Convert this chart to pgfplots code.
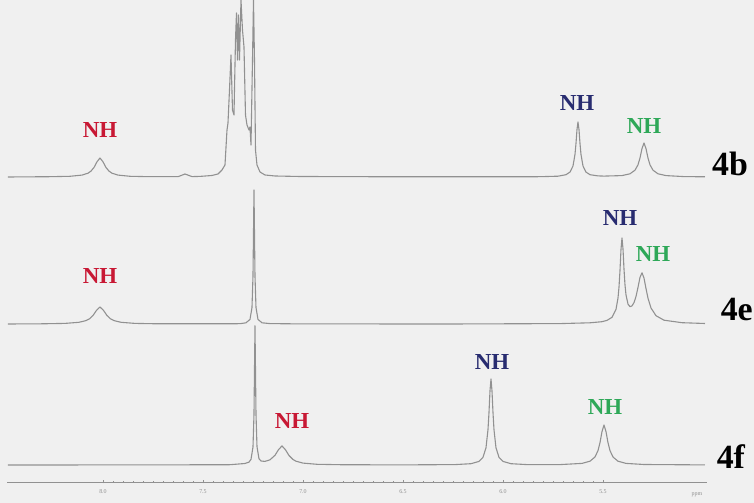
\documentclass[border=0pt]{standalone}
\usepackage{fontspec}
\setmainfont{Liberation Serif}
\usepackage{pgfplots}
\pgfplotsset{compat=1.18}
\definecolor{bgc}{RGB}{240,240,240}
\definecolor{spec}{RGB}{145,145,145}
\definecolor{nhred}{RGB}{200,24,52}
\definecolor{nhblue}{RGB}{40,44,112}
\definecolor{nhgreen}{RGB}{46,168,88}
\begin{document}
\begin{tikzpicture}
\begin{axis}[
  scale only axis, width=700bp, height=503bp,
  x dir=reverse, xmin=4.98, xmax=8.48, ymin=-21, ymax=482,
  clip=false, axis on top,
  axis x line*=middle, axis y line=none,
  x axis line style={-, draw=spec, line width=0.6bp},
  xtick={5.5,6.0,6.5,7.0,7.5,8.0},
  minor tick num=9,
  tick align=center,
  major tick length=3bp, minor tick length=1.6bp,
  every tick/.style={draw=spec, line width=0.4bp},
  xticklabel style={font=\fontsize{6}{6}\selectfont, text=spec, yshift=-3bp},
  /pgf/number format/.cd, fixed, fixed zerofill, precision=1, assume math mode=true,
]
\fill[bgc] (8.515,-21) rectangle (4.745,482);
\coordinate (bl) at (8.515,-21);
\coordinate (tr) at (4.745,482);

% 4b
\addplot[spec, line width=1.1bp, line join=round] coordinates {
(8.475,305) (8.265,305.3) (8.165,305.7) (8.105,306.9) (8.075,308.8) (8.060,310.9) (8.045,314.5) (8.030,320.2) (8.015,324)
(8.000,320.2) (7.985,314.5) (7.970,310.9) (7.955,308.8) (7.925,306.9) (7.865,305.7) (7.765,305.3) (7.625,305.3) (7.590,308) (7.555,305.4)
(7.515,305.6) (7.455,306.5) (7.425,308) (7.405,312) (7.390,317) (7.380,352) (7.375,359) (7.3675,392) (7.360,427) (7.3525,372)
(7.345,367) (7.3375,442) (7.3325,469) (7.3275,422) (7.3225,467) (7.3175,422) (7.310,482) (7.3025,452) (7.295,435) (7.2875,367)
(7.280,357) (7.270,352) (7.265,355) (7.260,337) (7.2525,422) (7.2475,482) (7.2425,422) (7.2375,332) (7.230,317) (7.215,310)
(7.190,307) (7.140,306) (7.015,305.5) (6.515,305.2) (6.015,305.2) (5.815,305.3) (5.725,305.8) (5.685,307.3) (5.665,309.9)
(5.650,316) (5.640,327.6) (5.635,338.6) (5.630,352.4) (5.625,360) (5.620,352.4) (5.615,338.6) (5.610,327.6) (5.600,316)
(5.585,309.9) (5.565,307.3) (5.525,306.1) (5.495,305.9) (5.405,306.4) (5.365,308.2) (5.340,311.8) (5.325,317.2) (5.315,324)
(5.305,333.4) (5.295,339) (5.285,333.4) (5.275,324) (5.265,317.2) (5.250,311.8) (5.225,308.2) (5.185,306.4) (5.095,305.4) (4.990,305.2)
};
% 4e
\addplot[spec, line width=1.1bp, line join=round] coordinates {
(8.475,158) (8.305,158.2) (8.190,158.6) (8.120,159.7) (8.085,161.4) (8.0675,163.2) (8.050,166.5) (8.0325,171.6) (8.015,175)
(7.9975,171.6) (7.980,166.5) (7.9625,163.2) (7.945,161.4) (7.910,159.7) (7.840,158.6) (7.725,158.2) (7.315,158.3) (7.285,159.2)
(7.265,162.6) (7.255,174.5) (7.250,206) (7.245,292) (7.240,206) (7.235,174.5) (7.225,162.6) (7.205,159.2) (7.165,158.4)
(7.015,158.1) (6.265,158) (5.715,158.4) (5.565,159.2) (5.505,160.3) (5.480,161.6) (5.455,164.7) (5.435,172.6) (5.425,183.9)
(5.420,194.8) (5.415,211.5) (5.410,232.5) (5.405,244.1) (5.400,233.2) (5.395,213) (5.390,197.1) (5.385,187.2) (5.375,177.9)
(5.365,175.3) (5.355,176.1) (5.345,179.4) (5.335,185.5) (5.325,194.6) (5.315,204.6) (5.305,209.2) (5.295,204) (5.285,193.5)
(5.275,183.8) (5.260,174) (5.235,166.3) (5.195,161.8) (5.105,159.3) (4.990,158.5)
};
% 4f
\addplot[spec, line width=1.1bp, line join=round] coordinates {
(8.475,17) (7.765,17.1) (7.365,17.3) (7.290,18.5) (7.270,19.9) (7.260,22.6) (7.250,35) (7.245,67.8) (7.240,156.2) (7.235,68)
(7.230,35.4) (7.220,23.3) (7.210,21) (7.190,20.6) (7.165,22.2) (7.140,26.7) (7.1225,32.3) (7.105,36.1) (7.0875,32.2) (7.070,26.5)
(7.050,22.5) (7.035,20.8) (7.000,18.9) (6.930,17.7) (6.815,17.3) (6.515,17.1) (6.240,17.4) (6.160,18.3) (6.120,20.6) (6.100,24.7)
(6.085,34.2) (6.075,52.3) (6.070,69.5) (6.065,91.1) (6.060,103) (6.055,91.1) (6.050,69.5) (6.045,52.3) (6.035,34.2) (6.020,24.7)
(6.000,20.6) (5.960,18.3) (5.880,17.4) (5.715,17.4) (5.605,18.6) (5.565,20.8) (5.540,25) (5.525,31.4) (5.515,39.3) (5.505,50.4)
(5.495,57) (5.485,50.4) (5.475,39.3) (5.465,31.4) (5.450,25) (5.425,20.8) (5.385,18.6) (5.295,17.5) (4.990,17.1)
};

\tikzset{nh/.style={font=\bfseries\fontsize{23}{23}\selectfont, inner sep=0pt},
         lab/.style={font=\bfseries\fontsize{34}{34}\selectfont, inner sep=0pt, text=black, anchor=west}}
\node[nh, text=nhred]   at (8.015,352) {NH};
\node[nh, text=nhblue]  at (5.630,379) {NH};
\node[nh, text=nhgreen] at (5.295,356) {NH};
\node[nh, text=nhred]   at (8.015,206) {NH};
\node[nh, text=nhblue]  at (5.415,264) {NH};
\node[nh, text=nhgreen] at (5.250,228) {NH};
\node[nh, text=nhred]   at (7.055,61) {NH};
\node[nh, text=nhblue]  at (6.055,120) {NH};
\node[nh, text=nhgreen] at (5.490,75) {NH};
\node[lab] at (4.955,318) {4b};
\node[lab] at (4.912,172) {4e};
\node[lab] at (4.932,25) {4f};
\node[font=\fontsize{6}{6}\selectfont, text=spec] at (5.03,-13) {ppm};
\end{axis}
\pgfresetboundingbox
\useasboundingbox (bl) rectangle (tr);
\end{tikzpicture}
\end{document}
